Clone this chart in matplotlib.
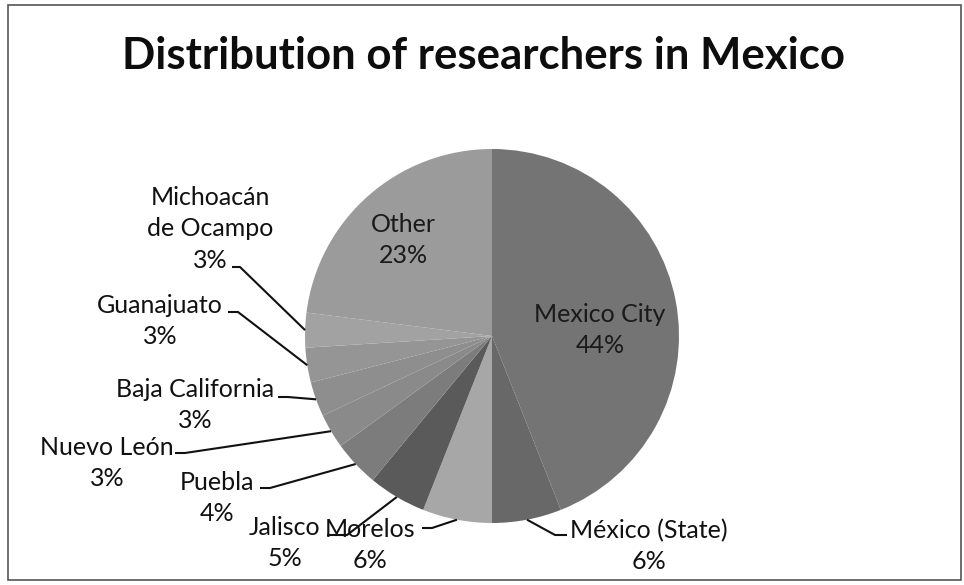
import numpy as np
import matplotlib.pyplot as plt
from matplotlib.patches import Rectangle

W, H = 964, 585

# data, clockwise from 12 o'clock
states = ["Mexico City", "México (State)", "Morelos", "Jalisco", "Puebla",
          "Nuevo León", "Baja California", "Guanajuato",
          "Michoacán\nde Ocampo", "Other"]
shares = [44, 6, 6, 5, 4, 3, 3, 3, 3, 23]

# styling
grays = ["#747474", "#686868", "#a7a7a7", "#5a5a5a", "#7c7c7c",
         "#8a8a8a", "#8e8e8e", "#959595", "#a2a2a2", "#9b9b9b"]
pie_center = (492, 336)   # px from top-left
pie_radius = 187

# label layout (px from top-left): text centre, then leader start + elbow
inside_labels = {"Mexico City": (600, 330), "Other": (403, 240)}
outside_labels = {
    "México (State)": ((649, 546), (567, 535), (555, 535)),
    "Morelos": ((370, 545), (422, 528), (432, 528)),
    "Jalisco": ((285, 543), (327, 535), (347, 535)),
    "Puebla": ((217, 498), (260, 488), (270, 488)),
    "Nuevo León": ((107, 463), (175, 453), (185, 453)),
    "Baja California": ((195, 405), (278, 397), (288, 397)),
    "Guanajuato": ((160, 321), (228, 312), (238, 312)),
    "Michoacán\nde Ocampo": ((210, 229), (232, 267), (240, 267)),
}

plt.rcParams["font.family"] = ["Lato", "DejaVu Sans"]


def px(x, y):
    return x, H - y


fig = plt.figure(figsize=(W / 100, H / 100), dpi=100)
ax = fig.add_axes([0, 0, 1, 1])

wedges, _ = ax.pie(shares, colors=grays, startangle=90, counterclock=False,
                   center=px(*pie_center), radius=pie_radius,
                   wedgeprops=dict(linewidth=0))
ax.set_xlim(0, W)
ax.set_ylim(0, H)
ax.set_aspect("equal")
ax.axis("off")

cx, cy = px(*pie_center)
for name, share, w in zip(states, shares, wedges):
    label = f"{name}\n{share}%"
    if name in inside_labels:
        ax.text(*px(*inside_labels[name]), label, ha="center", va="center",
                multialignment="center", fontsize=18, color="#1a1a1a",
                linespacing=1.45)
        continue
    (tx, ty), start, elbow = outside_labels[name]
    ax.text(*px(tx, ty), label, ha="center", va="center",
            multialignment="center", fontsize=18, color="#111111",
            linespacing=1.45)
    mid = np.deg2rad((w.theta1 + w.theta2) / 2)
    edge = (cx + pie_radius * np.cos(mid), cy + pie_radius * np.sin(mid))
    xs = [px(*start)[0], px(*elbow)[0], edge[0]]
    ys = [px(*start)[1], px(*elbow)[1], edge[1]]
    ax.plot(xs, ys, color="#111111", lw=1.5, solid_capstyle="butt")

ax.text(*px(W / 2 + 1, 56), "Distribution of researchers in Mexico",
        ha="center", va="center", fontsize=31.5, fontweight="bold", color="#0d0d0d")

ax.add_patch(Rectangle(px(8, 580), 953, 575, fill=False, edgecolor="#555555", lw=1.2))

fig.savefig("out.png", dpi=100)
